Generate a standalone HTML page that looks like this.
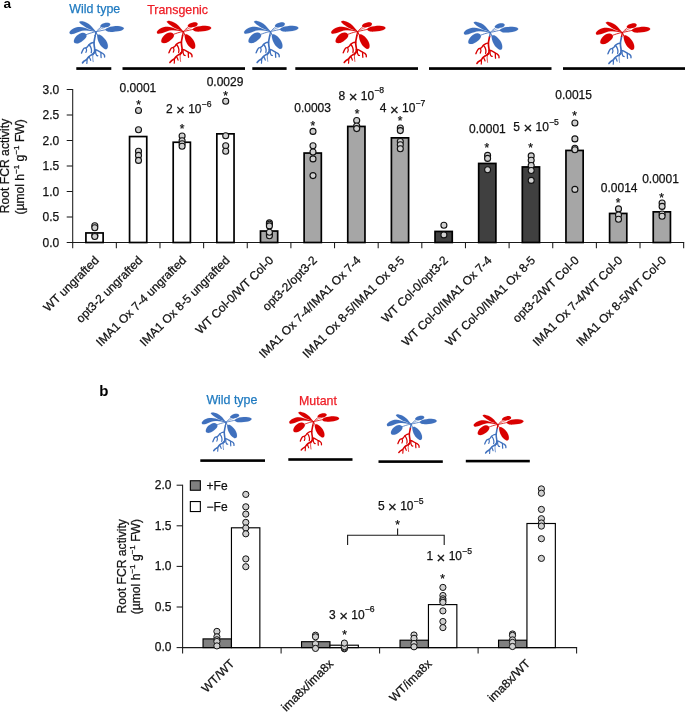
<!DOCTYPE html>
<html lang="en"><head><meta charset="utf-8"><title>Root FCR activity in grafted plants</title>
<style>html,body{margin:0;padding:0;background:#fff}svg{display:block}text{font-family:"Liberation Sans",Arial,Helvetica,sans-serif;font-size:12px;fill:#111;stroke:#111;stroke-width:0.25px}</style></head><body>
<svg width="685" height="713" viewBox="0 0 685 713">
<rect width="685" height="713" fill="#fff"/>
<defs><g id="shoot"><path d="M159 58C161 56 167 54 172 53C177 52 180 51 191 54C202 57 221 61 236 69C251 77 268 89 281 101C294 113 307 130 316 141C325 152 335 164 336 167C337 170 328 163 321 160C314 157 302 151 291 147C280 143 268 140 256 134C244 128 233 121 221 114C209 107 196 99 186 91C176 83 166 74 161 68C156 62 157 60 159 58Z"/><path d="M52 172C52 168 53 166 58 160C63 154 70 146 81 139C92 132 107 125 121 121C135 117 151 116 166 116C181 116 198 121 211 124C224 127 233 132 246 136C259 140 276 146 291 150C306 154 326 160 333 163C340 166 342 169 333 168C324 167 298 160 281 158C264 156 247 153 231 153C215 153 201 153 186 156C171 159 155 166 141 171C127 176 113 183 101 186C89 189 79 191 71 191C63 191 58 187 55 184C52 181 52 176 52 172Z"/><path d="M232 199C230 194 228 188 222 184C216 180 206 176 196 176C186 176 172 180 161 186C150 192 138 200 129 209C120 218 111 231 106 241C101 251 98 263 99 271C100 279 102 284 109 287C116 290 129 292 141 290C153 288 168 280 181 272C194 264 207 253 216 244C225 235 231 224 234 216C237 208 234 204 232 199Z"/><path d="M382 104C384 98 395 87 405 81C415 75 428 71 440 69C452 67 467 68 475 71C483 74 488 79 489 84C490 89 487 96 482 101C477 106 470 111 460 114C450 117 436 118 425 119C414 120 402 120 395 117C388 114 380 110 382 104Z"/><path d="M440 137C444 131 458 124 470 119C482 114 498 111 515 109C532 107 554 105 570 105C586 105 600 108 610 111C620 114 628 119 632 123C636 127 636 130 632 135C628 140 620 147 610 151C600 155 586 158 570 161C554 164 532 166 515 167C498 168 482 168 470 166C458 164 450 160 445 155C440 150 436 143 440 137Z"/><path d="M352 203C356 198 366 194 375 197C384 200 397 208 408 218C419 228 433 242 442 256C451 270 458 287 461 300C464 313 464 326 462 335C460 344 453 350 447 352C441 354 434 353 425 347C416 341 400 331 390 318C380 305 368 285 362 270C356 255 353 241 351 230C349 219 348 208 352 203Z"/><g fill="none" stroke-linecap="round"><path stroke-width="9" d="M232 196C238 194 259 186 271 182C283 178 296 175 306 172C316 169 329 167 334 166"/><path stroke-width="8" d="M392 114C387 118 371 131 362 139C353 147 341 160 337 164"/><path stroke-width="9" d="M443 143C436 144 413 149 400 152C387 155 376 158 365 160C354 162 342 165 337 166"/><path stroke-width="6" d="M430 120C424 122 407 127 395 132C383 137 366 149 360 152"/><path stroke-width="11" d="M336 166C338 170 342 183 345 190C348 197 354 203 356 206"/><path stroke-width="14" stroke-linecap="butt" d="M335 163C334 168 332 182 331 190C330 198 327 208 326 212"/></g></g><g id="root"><g fill="none" stroke-linecap="round" stroke-linejoin="round"><path stroke-width="18" d="M328 208C327 213 324 224 322 236C320 248 316 265 315 278C314 291 316 303 317 315C318 327 322 340 322 352C322 364 321 379 318 388C315 397 306 402 304 405"/><path stroke-width="18" d="M318 388C316 391 310 400 304 405C298 410 290 411 282 416C274 421 264 429 256 437C248 445 243 456 235 463C227 470 215 474 208 480C201 486 195 495 192 498"/><path stroke-width="15" d="M315 280C310 281 297 282 288 286C279 290 268 298 261 304C254 310 250 320 245 325C240 330 235 334 229 337C223 340 214 338 208 343C202 348 196 360 192 368C188 376 183 390 181 394"/><path stroke-width="14" d="M261 304C264 308 276 321 280 331C284 341 287 353 288 363C289 373 286 386 285 390"/><path stroke-width="13" d="M229 339C230 343 235 355 235 363C235 371 229 383 228 387"/><path stroke-width="15" d="M322 357C327 358 341 360 351 365C361 370 373 378 383 384C393 390 403 393 410 398C417 403 423 410 426 416C429 422 428 434 428 437"/><path stroke-width="14" d="M333 362C333 368 331 386 333 395C335 404 339 413 343 418C347 423 353 422 355 423"/><path stroke-width="14" d="M389 389C389 394 389 407 389 416C389 425 391 438 391 442"/><path stroke-width="8" d="M306 395C305 402 301 422 301 437C301 452 305 478 306 486"/><path stroke-width="13" d="M240 462C240 466 240 478 240 485C240 492 238 502 238 505"/><path stroke-width="13" d="M261 432C263 436 269 446 272 453C275 460 278 469 279 472"/></g></g></defs>
<text x="3.6" y="7.9" style="font-weight:bold;font-size:13.6px;fill:#000;stroke:none">a</text>
<text x="69.3" y="13.3" style="fill:#1f7ac0;stroke:#1f7ac0;font-size:12.4px">Wild type</text>
<text x="147.2" y="14.2" style="fill:#ee1c25;stroke:#ee1c25;font-size:12.4px">Transgenic</text>
<g transform="translate(95.90,31.70) scale(0.09343) translate(-335,-165)"><use href="#root" stroke="#3f70bd"/><use href="#shoot" fill="#3f70bd" stroke="#3f70bd"/></g>
<g transform="translate(183.30,31.40) scale(0.09343) translate(-335,-165)"><use href="#root" stroke="#d90000"/><use href="#shoot" fill="#d90000" stroke="#d90000"/></g>
<g transform="translate(270.50,31.40) scale(0.09343) translate(-335,-165)"><use href="#root" stroke="#3f70bd"/><use href="#shoot" fill="#3f70bd" stroke="#3f70bd"/></g>
<g transform="translate(357.60,31.40) scale(0.09343) translate(-335,-165)"><use href="#root" stroke="#d90000"/><use href="#shoot" fill="#d90000" stroke="#d90000"/></g>
<g transform="translate(490.30,32.30) scale(0.09343) translate(-335,-165)"><use href="#root" stroke="#d90000"/><use href="#shoot" fill="#3f70bd" stroke="#3f70bd"/></g>
<g transform="translate(622.30,32.40) scale(0.09343) translate(-335,-165)"><use href="#root" stroke="#3f70bd"/><use href="#shoot" fill="#d90000" stroke="#d90000"/></g>
<rect x="76.3" y="67.2" width="35.0" height="2.7" fill="#000"/>
<rect x="122.5" y="67.2" width="122.5" height="2.7" fill="#000"/>
<rect x="252.3" y="67.2" width="34.3" height="2.7" fill="#000"/>
<rect x="295.3" y="67.2" width="122.7" height="2.7" fill="#000"/>
<rect x="429" y="67.2" width="122.5" height="2.7" fill="#000"/>
<rect x="563" y="67.2" width="122.0" height="2.7" fill="#000"/>
<g stroke="#1a1a1a" stroke-width="1.05" fill="none">
<path d="M72.7 89.0 V243.0"/>
<path d="M72.2 242.5 H684.2"/>
<path d="M66.7 242.5 H72.7"/>
<path d="M66.7 217.0 H72.7"/>
<path d="M66.7 191.5 H72.7"/>
<path d="M66.7 166.0 H72.7"/>
<path d="M66.7 140.5 H72.7"/>
<path d="M66.7 115.0 H72.7"/>
<path d="M66.7 89.5 H72.7"/>
<path d="M72.70 242.5 V248.3"/>
<path d="M116.34 242.5 V248.3"/>
<path d="M159.98 242.5 V248.3"/>
<path d="M203.62 242.5 V248.3"/>
<path d="M247.26 242.5 V248.3"/>
<path d="M290.90 242.5 V248.3"/>
<path d="M334.54 242.5 V248.3"/>
<path d="M378.18 242.5 V248.3"/>
<path d="M421.82 242.5 V248.3"/>
<path d="M465.46 242.5 V248.3"/>
<path d="M509.10 242.5 V248.3"/>
<path d="M552.74 242.5 V248.3"/>
<path d="M596.38 242.5 V248.3"/>
<path d="M640.02 242.5 V248.3"/>
<path d="M683.66 242.5 V248.3"/>
</g>
<text x="59.3" y="246.8" text-anchor="end" >0.0</text>
<text x="59.3" y="221.3" text-anchor="end" >0.5</text>
<text x="59.3" y="195.8" text-anchor="end" >1.0</text>
<text x="59.3" y="170.3" text-anchor="end" >1.5</text>
<text x="59.3" y="144.8" text-anchor="end" >2.0</text>
<text x="59.3" y="119.3" text-anchor="end" >2.5</text>
<text x="59.3" y="93.8" text-anchor="end" >3.0</text>
<text transform="translate(9.3,166.0) rotate(-90)" text-anchor="middle" style="font-size:12.15px">Root FCR activity</text>
<text transform="translate(24.1,166.9) rotate(-90)" text-anchor="middle" style="font-size:12.15px">(µmol h<tspan dy="-5" font-size="8">−1</tspan><tspan dy="5"> g</tspan><tspan dy="-5" font-size="8">−1</tspan><tspan dy="5"> FW)</tspan></text>
<rect x="85.92" y="232.95" width="17.2" height="9.55" fill="#fff" stroke="#000" stroke-width="1.7"/>
<rect x="129.56" y="136.55" width="17.2" height="105.95" fill="#fff" stroke="#000" stroke-width="1.7"/>
<rect x="173.20" y="142.25" width="17.2" height="100.25" fill="#fff" stroke="#000" stroke-width="1.7"/>
<rect x="216.84" y="133.85" width="17.2" height="108.65" fill="#fff" stroke="#000" stroke-width="1.7"/>
<rect x="260.48" y="231.05" width="17.2" height="11.45" fill="#a6a6a6" stroke="#000" stroke-width="1.7"/>
<rect x="304.12" y="153.05" width="17.2" height="89.45" fill="#a6a6a6" stroke="#000" stroke-width="1.7"/>
<rect x="347.76" y="126.45" width="17.2" height="116.05" fill="#a6a6a6" stroke="#000" stroke-width="1.7"/>
<rect x="391.40" y="137.85" width="17.2" height="104.65" fill="#a6a6a6" stroke="#000" stroke-width="1.7"/>
<rect x="435.04" y="231.45" width="17.2" height="11.05" fill="#404040" stroke="#000" stroke-width="1.7"/>
<rect x="478.68" y="163.45" width="17.2" height="79.05" fill="#404040" stroke="#000" stroke-width="1.7"/>
<rect x="522.32" y="166.95" width="17.2" height="75.55" fill="#404040" stroke="#000" stroke-width="1.7"/>
<rect x="565.96" y="150.45" width="17.2" height="92.05" fill="#a6a6a6" stroke="#000" stroke-width="1.7"/>
<rect x="609.60" y="213.45" width="17.2" height="29.05" fill="#a6a6a6" stroke="#000" stroke-width="1.7"/>
<rect x="653.24" y="211.85" width="17.2" height="30.65" fill="#a6a6a6" stroke="#000" stroke-width="1.7"/>
<circle cx="94.8" cy="225.7" r="3.0" fill="#d0d0d0" stroke="#111" stroke-width="1.1"/>
<circle cx="94.8" cy="227.7" r="3.0" fill="#d0d0d0" stroke="#111" stroke-width="1.1"/>
<circle cx="94.8" cy="235.6" r="3.0" fill="#d0d0d0" stroke="#111" stroke-width="1.1"/>
<circle cx="94.8" cy="236.5" r="3.0" fill="#d0d0d0" stroke="#111" stroke-width="1.1"/>
<circle cx="138.5" cy="110.5" r="3.0" fill="#d0d0d0" stroke="#111" stroke-width="1.1"/>
<circle cx="138.5" cy="129.7" r="3.0" fill="#d0d0d0" stroke="#111" stroke-width="1.1"/>
<circle cx="138.5" cy="151.2" r="3.0" fill="#d0d0d0" stroke="#111" stroke-width="1.1"/>
<circle cx="138.5" cy="155.4" r="3.0" fill="#d0d0d0" stroke="#111" stroke-width="1.1"/>
<circle cx="138.5" cy="160.4" r="3.0" fill="#d0d0d0" stroke="#111" stroke-width="1.1"/>
<circle cx="182.1" cy="136.0" r="3.0" fill="#d0d0d0" stroke="#111" stroke-width="1.1"/>
<circle cx="182.1" cy="140.8" r="3.0" fill="#d0d0d0" stroke="#111" stroke-width="1.1"/>
<circle cx="182.1" cy="143.7" r="3.0" fill="#d0d0d0" stroke="#111" stroke-width="1.1"/>
<circle cx="182.1" cy="146.3" r="3.0" fill="#d0d0d0" stroke="#111" stroke-width="1.1"/>
<circle cx="225.7" cy="101.3" r="3.0" fill="#d0d0d0" stroke="#111" stroke-width="1.1"/>
<circle cx="225.7" cy="135.7" r="3.0" fill="#d0d0d0" stroke="#111" stroke-width="1.1"/>
<circle cx="225.7" cy="145.8" r="3.0" fill="#d0d0d0" stroke="#111" stroke-width="1.1"/>
<circle cx="225.7" cy="151.3" r="3.0" fill="#d0d0d0" stroke="#111" stroke-width="1.1"/>
<circle cx="269.4" cy="222.9" r="3.0" fill="#d0d0d0" stroke="#111" stroke-width="1.1"/>
<circle cx="269.4" cy="224.2" r="3.0" fill="#d0d0d0" stroke="#111" stroke-width="1.1"/>
<circle cx="269.4" cy="233.3" r="3.0" fill="#d0d0d0" stroke="#111" stroke-width="1.1"/>
<circle cx="269.4" cy="234.5" r="3.0" fill="#d0d0d0" stroke="#111" stroke-width="1.1"/>
<circle cx="269.4" cy="235.7" r="3.0" fill="#d0d0d0" stroke="#111" stroke-width="1.1"/>
<circle cx="269.4" cy="225.9" r="3.0" fill="#d0d0d0" stroke="#111" stroke-width="1.1"/>
<circle cx="269.4" cy="232.2" r="3.0" fill="#d0d0d0" stroke="#111" stroke-width="1.1"/>
<circle cx="313.0" cy="131.4" r="3.0" fill="#d0d0d0" stroke="#111" stroke-width="1.1"/>
<circle cx="313.0" cy="145.8" r="3.0" fill="#d0d0d0" stroke="#111" stroke-width="1.1"/>
<circle cx="313.0" cy="152.0" r="3.0" fill="#d0d0d0" stroke="#111" stroke-width="1.1"/>
<circle cx="313.0" cy="158.9" r="3.0" fill="#d0d0d0" stroke="#111" stroke-width="1.1"/>
<circle cx="313.0" cy="175.6" r="3.0" fill="#d0d0d0" stroke="#111" stroke-width="1.1"/>
<circle cx="356.7" cy="120.5" r="3.0" fill="#d0d0d0" stroke="#111" stroke-width="1.1"/>
<circle cx="356.7" cy="126.0" r="3.0" fill="#d0d0d0" stroke="#111" stroke-width="1.1"/>
<circle cx="356.7" cy="128.6" r="3.0" fill="#d0d0d0" stroke="#111" stroke-width="1.1"/>
<circle cx="400.3" cy="128.0" r="3.0" fill="#d0d0d0" stroke="#111" stroke-width="1.1"/>
<circle cx="400.3" cy="130.6" r="3.0" fill="#d0d0d0" stroke="#111" stroke-width="1.1"/>
<circle cx="400.3" cy="141.5" r="3.0" fill="#d0d0d0" stroke="#111" stroke-width="1.1"/>
<circle cx="400.3" cy="144.7" r="3.0" fill="#d0d0d0" stroke="#111" stroke-width="1.1"/>
<circle cx="400.3" cy="148.8" r="3.0" fill="#d0d0d0" stroke="#111" stroke-width="1.1"/>
<circle cx="443.9" cy="225.3" r="3.0" fill="#d0d0d0" stroke="#111" stroke-width="1.1"/>
<circle cx="443.9" cy="234.9" r="3.0" fill="#d0d0d0" stroke="#111" stroke-width="1.1"/>
<circle cx="487.6" cy="155.4" r="3.0" fill="#d0d0d0" stroke="#111" stroke-width="1.1"/>
<circle cx="487.6" cy="158.4" r="3.0" fill="#d0d0d0" stroke="#111" stroke-width="1.1"/>
<circle cx="487.6" cy="169.7" r="3.0" fill="#d0d0d0" stroke="#111" stroke-width="1.1"/>
<circle cx="531.2" cy="155.9" r="3.0" fill="#d0d0d0" stroke="#111" stroke-width="1.1"/>
<circle cx="531.2" cy="160.2" r="3.0" fill="#d0d0d0" stroke="#111" stroke-width="1.1"/>
<circle cx="531.2" cy="165.5" r="3.0" fill="#d0d0d0" stroke="#111" stroke-width="1.1"/>
<circle cx="531.2" cy="170.5" r="3.0" fill="#d0d0d0" stroke="#111" stroke-width="1.1"/>
<circle cx="531.2" cy="180.4" r="3.0" fill="#d0d0d0" stroke="#111" stroke-width="1.1"/>
<circle cx="574.9" cy="123.0" r="3.0" fill="#d0d0d0" stroke="#111" stroke-width="1.1"/>
<circle cx="574.9" cy="138.9" r="3.0" fill="#d0d0d0" stroke="#111" stroke-width="1.1"/>
<circle cx="574.9" cy="148.3" r="3.0" fill="#d0d0d0" stroke="#111" stroke-width="1.1"/>
<circle cx="574.9" cy="149.8" r="3.0" fill="#d0d0d0" stroke="#111" stroke-width="1.1"/>
<circle cx="574.9" cy="189.4" r="3.0" fill="#d0d0d0" stroke="#111" stroke-width="1.1"/>
<circle cx="618.5" cy="208.9" r="3.0" fill="#d0d0d0" stroke="#111" stroke-width="1.1"/>
<circle cx="618.5" cy="215.0" r="3.0" fill="#d0d0d0" stroke="#111" stroke-width="1.1"/>
<circle cx="618.5" cy="219.3" r="3.0" fill="#d0d0d0" stroke="#111" stroke-width="1.1"/>
<circle cx="662.1" cy="203.0" r="3.0" fill="#d0d0d0" stroke="#111" stroke-width="1.1"/>
<circle cx="662.1" cy="206.4" r="3.0" fill="#d0d0d0" stroke="#111" stroke-width="1.1"/>
<circle cx="662.1" cy="214.0" r="3.0" fill="#d0d0d0" stroke="#111" stroke-width="1.1"/>
<circle cx="662.1" cy="216.2" r="3.0" fill="#d0d0d0" stroke="#111" stroke-width="1.1"/>
<text x="137.9" y="91.9" text-anchor="middle" >0.0001</text>
<text x="165.9" y="113.0" text-anchor="start">2 <tspan font-size="15" dy="2.1" dx="0.15">×</tspan><tspan dy="-2.1" dx="0"> 10</tspan><tspan dy="-6.2" dx="0.1" font-size="8.6">−6</tspan></text>
<text x="225.0" y="85.7" text-anchor="middle" >0.0029</text>
<text x="312.6" y="112.4" text-anchor="middle" >0.0003</text>
<text x="338.6" y="99.5" text-anchor="start">8 <tspan font-size="15" dy="2.1" dx="0.15">×</tspan><tspan dy="-2.1" dx="0"> 10</tspan><tspan dy="-6.2" dx="0.1" font-size="8.6">−8</tspan></text>
<text x="379.8" y="112.4" text-anchor="start">4 <tspan font-size="15" dy="2.1" dx="0.15">×</tspan><tspan dy="-2.1" dx="0"> 10</tspan><tspan dy="-6.2" dx="0.1" font-size="8.6">−7</tspan></text>
<text x="487.4" y="133.3" text-anchor="middle" >0.0001</text>
<text x="513.3" y="131.1" text-anchor="start">5 <tspan font-size="15" dy="2.1" dx="0.15">×</tspan><tspan dy="-2.1" dx="0"> 10</tspan><tspan dy="-6.2" dx="0.1" font-size="8.6">−5</tspan></text>
<text x="573.6" y="99.0" text-anchor="middle" >0.0015</text>
<text x="619.2" y="191.5" text-anchor="middle" >0.0014</text>
<text x="660.5" y="182.6" text-anchor="middle" >0.0001</text>
<text x="138.6" y="108.6" text-anchor="middle">*</text>
<text x="182.2" y="132.5" text-anchor="middle">*</text>
<text x="225.7" y="99.7" text-anchor="middle">*</text>
<text x="312.8" y="129.5" text-anchor="middle">*</text>
<text x="357.0" y="118.2" text-anchor="middle">*</text>
<text x="400.0" y="125.0" text-anchor="middle">*</text>
<text x="486.9" y="151.8" text-anchor="middle">*</text>
<text x="530.5" y="151.8" text-anchor="middle">*</text>
<text x="574.7" y="119.9" text-anchor="middle">*</text>
<text x="618.2" y="206.5" text-anchor="middle">*</text>
<text x="661.6" y="201.5" text-anchor="middle">*</text>
<text transform="translate(99.6,261.1) rotate(-45)" text-anchor="end">WT ungrafted</text>
<text transform="translate(143.3,261.1) rotate(-45)" text-anchor="end">opt3-2 ungrafted</text>
<text transform="translate(186.9,261.1) rotate(-45)" text-anchor="end">IMA1 Ox 7-4 ungrafted</text>
<text transform="translate(230.5,261.1) rotate(-45)" text-anchor="end">IMA1 Ox 8-5 ungrafted</text>
<text transform="translate(274.2,261.1) rotate(-45)" text-anchor="end">WT Col-0/WT Col-0</text>
<text transform="translate(317.8,261.1) rotate(-45)" text-anchor="end">opt3-2/opt3-2</text>
<text transform="translate(361.5,261.1) rotate(-45)" text-anchor="end">IMA1 Ox 7-4/IMA1 Ox 7-4</text>
<text transform="translate(405.1,261.1) rotate(-45)" text-anchor="end">IMA1 Ox 8-5/IMA1 Ox 8-5</text>
<text transform="translate(448.7,261.1) rotate(-45)" text-anchor="end">WT Col-0/opt3-2</text>
<text transform="translate(492.4,261.1) rotate(-45)" text-anchor="end">WT Col-0/IMA1 Ox 7-4</text>
<text transform="translate(536.0,261.1) rotate(-45)" text-anchor="end">WT Col-0/IMA1 Ox 8-5</text>
<text transform="translate(579.7,261.1) rotate(-45)" text-anchor="end">opt3-2/WT Col-0</text>
<text transform="translate(623.3,261.1) rotate(-45)" text-anchor="end">IMA1 Ox 7-4/WT Col-0</text>
<text transform="translate(666.9,261.1) rotate(-45)" text-anchor="end">IMA1 Ox 8-5/WT Col-0</text>
<text x="99.2" y="395.9" style="font-weight:bold;font-size:15px;fill:#000;stroke:none">b</text>
<text x="206.4" y="403.6" style="fill:#1f7ac0;stroke:#1f7ac0;font-size:12.4px">Wild type</text>
<text x="299.0" y="404.8" style="fill:#ee1c25;stroke:#ee1c25;font-size:12.4px">Mutant</text>
<g transform="translate(226.00,422.10) scale(0.08568) translate(-335,-165)"><use href="#root" stroke="#3f70bd"/><use href="#shoot" fill="#3f70bd" stroke="#3f70bd"/></g>
<g transform="translate(313.50,421.50) scale(0.08568) translate(-335,-165)"><use href="#root" stroke="#d90000"/><use href="#shoot" fill="#d90000" stroke="#d90000"/></g>
<g transform="translate(411.10,424.00) scale(0.08568) translate(-335,-165)"><use href="#root" stroke="#d90000"/><use href="#shoot" fill="#3f70bd" stroke="#3f70bd"/></g>
<g transform="translate(497.90,424.40) scale(0.08568) translate(-335,-165)"><use href="#root" stroke="#3f70bd"/><use href="#shoot" fill="#d90000" stroke="#d90000"/></g>
<rect x="200.3" y="459.3" width="64.7" height="2.6" fill="#000"/>
<rect x="288.3" y="458.2" width="64.2" height="2.6" fill="#000"/>
<rect x="378.5" y="460.3" width="64.3" height="2.6" fill="#000"/>
<rect x="465.8" y="459.8" width="64.0" height="2.6" fill="#000"/>
<g stroke="#1a1a1a" stroke-width="1.05" fill="none">
<path d="M182.6 484.70000000000005 V648.1"/>
<path d="M182.1 647.6 H577.1"/>
<path d="M176.6 647.60 H182.6"/>
<path d="M176.6 607.00 H182.6"/>
<path d="M176.6 566.40 H182.6"/>
<path d="M176.6 525.80 H182.6"/>
<path d="M176.6 485.20 H182.6"/>
<path d="M182.60 647.6 V653.4"/>
<path d="M281.10 647.6 V653.4"/>
<path d="M379.60 647.6 V653.4"/>
<path d="M478.10 647.6 V653.4"/>
<path d="M576.60 647.6 V653.4"/>
</g>
<text x="171.4" y="651.3" text-anchor="end" >0.0</text>
<text x="171.4" y="610.7" text-anchor="end" >0.5</text>
<text x="171.4" y="570.1" text-anchor="end" >1.0</text>
<text x="171.4" y="529.5" text-anchor="end" >1.5</text>
<text x="171.4" y="488.9" text-anchor="end" >2.0</text>
<text transform="translate(125.5,566.3) rotate(-90)" text-anchor="middle" style="font-size:12.15px">Root FCR activity</text>
<text transform="translate(140.2,566.6) rotate(-90)" text-anchor="middle" style="font-size:12.15px">(µmol h<tspan dy="-5" font-size="8">−1</tspan><tspan dy="5"> g</tspan><tspan dy="-5" font-size="8">−1</tspan><tspan dy="5"> FW)</tspan></text>
<rect x="190.35" y="480.75" width="10.0" height="9.5" fill="#808080" stroke="#000" stroke-width="1.1"/>
<rect x="190.35" y="501.55" width="10.0" height="10.0" fill="#fff" stroke="#000" stroke-width="1.1"/>
<text x="206.6" y="489.6" text-anchor="start" >+Fe</text>
<text x="206.6" y="510.6" text-anchor="start" >−Fe</text>
<rect x="203.05" y="638.90" width="28.4" height="8.70" fill="#808080" stroke="#000" stroke-width="1.15"/>
<rect x="231.45" y="527.80" width="28.4" height="119.80" fill="#fff" stroke="#000" stroke-width="1.15"/>
<rect x="301.55" y="641.70" width="28.4" height="5.90" fill="#808080" stroke="#000" stroke-width="1.15"/>
<rect x="329.95" y="645.20" width="28.4" height="2.40" fill="#fff" stroke="#000" stroke-width="1.15"/>
<rect x="400.05" y="640.20" width="28.4" height="7.40" fill="#808080" stroke="#000" stroke-width="1.15"/>
<rect x="428.45" y="604.60" width="28.4" height="43.00" fill="#fff" stroke="#000" stroke-width="1.15"/>
<rect x="498.55" y="640.20" width="28.4" height="7.40" fill="#808080" stroke="#000" stroke-width="1.15"/>
<rect x="526.95" y="523.50" width="28.4" height="124.10" fill="#fff" stroke="#000" stroke-width="1.15"/>
<circle cx="216.9" cy="631.4" r="3.1" fill="#d0d0d0" stroke="#111" stroke-width="1.0"/>
<circle cx="216.9" cy="636.8" r="3.1" fill="#d0d0d0" stroke="#111" stroke-width="1.0"/>
<circle cx="216.9" cy="639.8" r="3.1" fill="#d0d0d0" stroke="#111" stroke-width="1.0"/>
<circle cx="216.9" cy="641.5" r="3.1" fill="#d0d0d0" stroke="#111" stroke-width="1.0"/>
<circle cx="216.9" cy="645.9" r="3.1" fill="#d0d0d0" stroke="#111" stroke-width="1.0"/>
<circle cx="245.8" cy="494.4" r="3.1" fill="#d0d0d0" stroke="#111" stroke-width="1.0"/>
<circle cx="245.8" cy="506.8" r="3.1" fill="#d0d0d0" stroke="#111" stroke-width="1.0"/>
<circle cx="245.8" cy="514.1" r="3.1" fill="#d0d0d0" stroke="#111" stroke-width="1.0"/>
<circle cx="245.8" cy="522.4" r="3.1" fill="#d0d0d0" stroke="#111" stroke-width="1.0"/>
<circle cx="245.8" cy="528.0" r="3.1" fill="#d0d0d0" stroke="#111" stroke-width="1.0"/>
<circle cx="245.8" cy="533.8" r="3.1" fill="#d0d0d0" stroke="#111" stroke-width="1.0"/>
<circle cx="245.8" cy="558.9" r="3.1" fill="#d0d0d0" stroke="#111" stroke-width="1.0"/>
<circle cx="245.8" cy="566.7" r="3.1" fill="#d0d0d0" stroke="#111" stroke-width="1.0"/>
<circle cx="315.5" cy="635.2" r="3.1" fill="#d0d0d0" stroke="#111" stroke-width="1.0"/>
<circle cx="315.5" cy="636.8" r="3.1" fill="#d0d0d0" stroke="#111" stroke-width="1.0"/>
<circle cx="315.5" cy="643.8" r="3.1" fill="#d0d0d0" stroke="#111" stroke-width="1.0"/>
<circle cx="315.5" cy="648.4" r="3.1" fill="#d0d0d0" stroke="#111" stroke-width="1.0"/>
<circle cx="344.4" cy="648.8" r="3.1" fill="#d0d0d0" stroke="#111" stroke-width="1.0"/>
<circle cx="344.4" cy="648.0" r="3.1" fill="#d0d0d0" stroke="#111" stroke-width="1.0"/>
<circle cx="344.4" cy="646.6" r="3.1" fill="#d0d0d0" stroke="#111" stroke-width="1.0"/>
<circle cx="344.4" cy="643.1" r="3.1" fill="#d0d0d0" stroke="#111" stroke-width="1.0"/>
<circle cx="414.0" cy="635.0" r="3.1" fill="#d0d0d0" stroke="#111" stroke-width="1.0"/>
<circle cx="414.0" cy="638.3" r="3.1" fill="#d0d0d0" stroke="#111" stroke-width="1.0"/>
<circle cx="414.0" cy="643.5" r="3.1" fill="#d0d0d0" stroke="#111" stroke-width="1.0"/>
<circle cx="414.0" cy="646.8" r="3.1" fill="#d0d0d0" stroke="#111" stroke-width="1.0"/>
<circle cx="442.9" cy="587.4" r="3.1" fill="#d0d0d0" stroke="#111" stroke-width="1.0"/>
<circle cx="442.9" cy="595.5" r="3.1" fill="#d0d0d0" stroke="#111" stroke-width="1.0"/>
<circle cx="442.9" cy="598.8" r="3.1" fill="#d0d0d0" stroke="#111" stroke-width="1.0"/>
<circle cx="442.9" cy="600.6" r="3.1" fill="#d0d0d0" stroke="#111" stroke-width="1.0"/>
<circle cx="442.9" cy="602.3" r="3.1" fill="#d0d0d0" stroke="#111" stroke-width="1.0"/>
<circle cx="442.9" cy="610.9" r="3.1" fill="#d0d0d0" stroke="#111" stroke-width="1.0"/>
<circle cx="442.9" cy="621.5" r="3.1" fill="#d0d0d0" stroke="#111" stroke-width="1.0"/>
<circle cx="442.9" cy="627.6" r="3.1" fill="#d0d0d0" stroke="#111" stroke-width="1.0"/>
<circle cx="512.5" cy="634.0" r="3.1" fill="#d0d0d0" stroke="#111" stroke-width="1.0"/>
<circle cx="512.5" cy="635.4" r="3.1" fill="#d0d0d0" stroke="#111" stroke-width="1.0"/>
<circle cx="512.5" cy="639.9" r="3.1" fill="#d0d0d0" stroke="#111" stroke-width="1.0"/>
<circle cx="512.5" cy="642.4" r="3.1" fill="#d0d0d0" stroke="#111" stroke-width="1.0"/>
<circle cx="512.5" cy="646.5" r="3.1" fill="#d0d0d0" stroke="#111" stroke-width="1.0"/>
<circle cx="541.4" cy="488.9" r="3.1" fill="#d0d0d0" stroke="#111" stroke-width="1.0"/>
<circle cx="541.4" cy="493.2" r="3.1" fill="#d0d0d0" stroke="#111" stroke-width="1.0"/>
<circle cx="541.4" cy="509.4" r="3.1" fill="#d0d0d0" stroke="#111" stroke-width="1.0"/>
<circle cx="541.4" cy="518.7" r="3.1" fill="#d0d0d0" stroke="#111" stroke-width="1.0"/>
<circle cx="541.4" cy="523.0" r="3.1" fill="#d0d0d0" stroke="#111" stroke-width="1.0"/>
<circle cx="541.4" cy="526.1" r="3.1" fill="#d0d0d0" stroke="#111" stroke-width="1.0"/>
<circle cx="541.4" cy="538.7" r="3.1" fill="#d0d0d0" stroke="#111" stroke-width="1.0"/>
<circle cx="541.4" cy="558.4" r="3.1" fill="#d0d0d0" stroke="#111" stroke-width="1.0"/>
<text x="329.0" y="618.5" text-anchor="start">3 <tspan font-size="15" dy="2.1" dx="0.15">×</tspan><tspan dy="-2.1" dx="0"> 10</tspan><tspan dy="-6.2" dx="0.1" font-size="8.6">−6</tspan></text>
<text x="344.5" y="639.1" text-anchor="middle">*</text>
<text x="377.9" y="509.9" text-anchor="start">5 <tspan font-size="15" dy="2.1" dx="0.15">×</tspan><tspan dy="-2.1" dx="0"> 10</tspan><tspan dy="-6.2" dx="0.1" font-size="8.6">−5</tspan></text>
<text x="397.6" y="528.8" text-anchor="middle">*</text>
<path d="M347.6 545 V535.2 H444.2 V545 M397.6 535.2 V528.6" fill="none" stroke="#1a1a1a" stroke-width="1.1"/>
<text x="426.4" y="560.4" text-anchor="start">1 <tspan font-size="15" dy="2.1" dx="0.15">×</tspan><tspan dy="-2.1" dx="0"> 10</tspan><tspan dy="-6.2" dx="0.1" font-size="8.6">−5</tspan></text>
<text x="442.7" y="582.5" text-anchor="middle">*</text>
<text transform="translate(235.3,664.4) rotate(-45)" text-anchor="end">WT/WT</text>
<text transform="translate(333.9,664.4) rotate(-45)" text-anchor="end">ima8x/ima8x</text>
<text transform="translate(432.4,664.4) rotate(-45)" text-anchor="end">WT/ima8x</text>
<text transform="translate(530.9,664.4) rotate(-45)" text-anchor="end">ima8x/WT</text>
</svg></body></html>
